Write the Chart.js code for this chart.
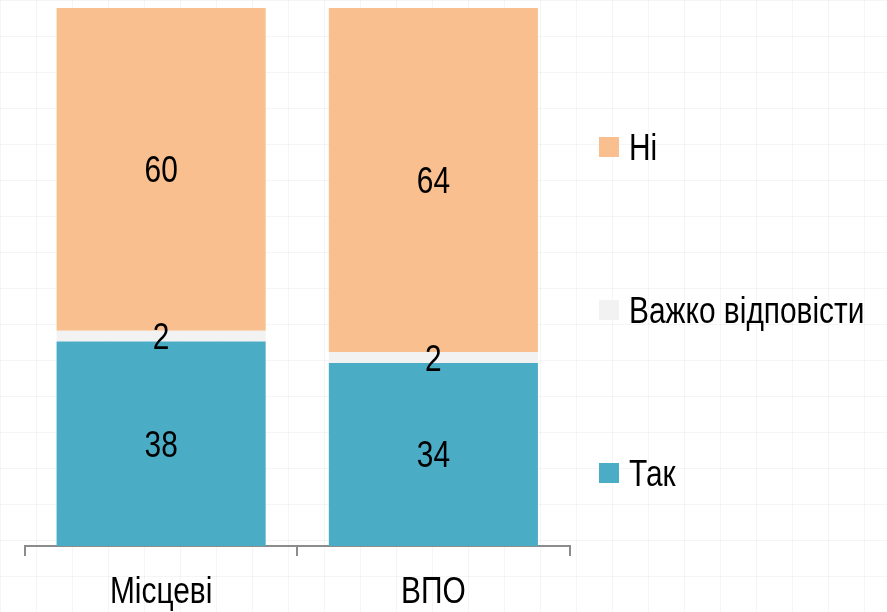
<!DOCTYPE html>
<html>
<head>
<meta charset="utf-8">
<script src="https://cdn.jsdelivr.net/npm/chart.js@4.4.0/dist/chart.umd.min.js"></script>
<style>
  html, body { margin: 0; padding: 0; }
  body {
    width: 887px; height: 612px;
    background-color: #fff;
    background-image:
      linear-gradient(to right, rgba(0,0,0,0.04) 1px, transparent 1px),
      linear-gradient(to bottom, rgba(0,0,0,0.04) 1px, transparent 1px);
    background-size: 36px 36px;
  }
  #wrap { position: relative; width: 887px; height: 612px; }
</style>
</head>
<body>
<div id="wrap"><canvas id="chart"></canvas></div>
<script>
var categories = ["Місцеві", "ВПО"];
var seriesNames = ["Так", "Важко відповісти", "Ні"];
var yesValues = [38, 34];
var hardValues = [2, 2];
var noValues = [60, 64];
var colors = ["#4BACC6", "#F2F2F2", "#F9BF8F"];

var FONT = "'Liberation Sans', Arial, sans-serif";
var NARROW = 0.83; // squeeze Liberation Sans to look like Arial Narrow

function narrowText(ctx, text, x, y) {
  ctx.save();
  ctx.translate(x, y);
  ctx.scale(NARROW, 1);
  ctx.fillText(text, 0, 0);
  ctx.restore();
}

// values inside the bar segments + category labels under the axis
var valueLabels = {
  id: "valueLabels",
  afterDatasetsDraw: function(chart) {
    var ctx = chart.ctx;
    ctx.save();
    ctx.font = "36px " + FONT;
    ctx.fillStyle = "#000";
    ctx.textAlign = "center";
    ctx.textBaseline = "middle";
    chart.data.datasets.forEach(function(ds, i) {
      chart.getDatasetMeta(i).data.forEach(function(bar, j) {
        var c = bar.getCenterPoint();
        narrowText(ctx, String(ds.data[j]), c.x, c.y + 3);
      });
    });
    ctx.textBaseline = "alphabetic";
    var xs = chart.scales.x;
    chart.data.labels.forEach(function(lab, j) {
      narrowText(ctx, lab, xs.getPixelForValue(j), chart.chartArea.bottom + 57);
    });
    ctx.restore();
  }
};

// legend on the right, top item = last series
var sideLegend = {
  id: "sideLegend",
  afterDraw: function(chart) {
    var ctx = chart.ctx;
    var ds = chart.data.datasets;
    ctx.save();
    ctx.font = "36px " + FONT;
    ctx.textBaseline = "alphabetic";
    ctx.textAlign = "left";
    var x = 599, y0 = 147, step = 163;
    for (var k = 0; k < ds.length; k++) {
      var d = ds[ds.length - 1 - k];
      var y = y0 + k * step;
      ctx.fillStyle = d.backgroundColor;
      ctx.fillRect(x, y - 10, 20, 20);
      ctx.fillStyle = "#000";
      narrowText(ctx, d.label, x + 30, y + 12.5);
    }
    ctx.restore();
  }
};

var ctx = document.getElementById("chart").getContext("2d");
new Chart(ctx, {
  type: "bar",
  data: {
    labels: categories,
    datasets: [
      { label: seriesNames[0], data: yesValues, backgroundColor: colors[0] },
      { label: seriesNames[1], data: hardValues, backgroundColor: colors[1] },
      { label: seriesNames[2], data: noValues, backgroundColor: colors[2] }
    ]
  },
  options: {
    responsive: true,
    maintainAspectRatio: false,
    animation: false,
    categoryPercentage: 1,
    barPercentage: 0.768,
    layout: { padding: { left: 25, right: 317.5, top: 8, bottom: 56 } },
    plugins: {
      legend: { display: false },
      tooltip: { enabled: false }
    },
    scales: {
      x: {
        stacked: true,
        grid: {
          offset: true,
          drawOnChartArea: false,
          drawTicks: true,
          tickLength: 10,
          color: "#8c8c8c",
          lineWidth: 2
        },
        border: { display: true, color: "#8c8c8c", width: 2 },
        ticks: { display: false }
      },
      y: {
        stacked: true,
        display: false,
        min: 0,
        max: 100
      }
    }
  },
  plugins: [valueLabels, sideLegend]
});
</script>
</body>
</html>
